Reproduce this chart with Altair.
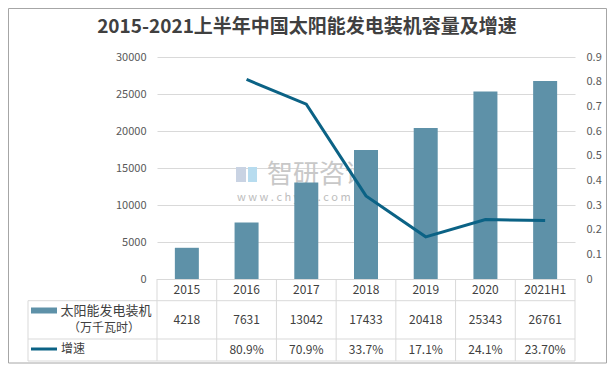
import altair as alt
import pandas as pd

title_text = "2015-2021上半年中国太阳能发电装机容量及增速"
years = ["2015", "2016", "2017", "2018", "2019", "2020", "2021H1"]
capacity = [4218, 7631, 13042, 17433, 20418, 25343, 26761]
growth = [None, 0.809, 0.709, 0.337, 0.171, 0.241, 0.237]
growth_labels = ["", "80.9%", "70.9%", "33.7%", "17.1%", "24.1%", "23.70%"]
series_bar = "太阳能发电装机"
series_bar_unit = "（万千瓦时）"
series_line = "增速"
left_ticks = [0, 5000, 10000, 15000, 20000, 25000, 30000]
right_ticks = [0, 0.1, 0.2, 0.3, 0.4, 0.5, 0.6, 0.7, 0.8, 0.9]

BAR = "#5E91A8"
LINE = "#0B6285"
GRID = "#D9D9D9"
TXT = "#404040"
FONT = "Noto Sans CJK SC"

W, H = 418, 222

df = pd.DataFrame({
    "year": years,
    "capacity": capacity,
    "growth": growth,
    "cap_label": [str(v) for v in capacity],
    "growth_label": growth_labels,
})

xenc = alt.X("year:N", sort=years, axis=None,
             scale=alt.Scale(paddingInner=0, paddingOuter=0))

base = alt.Chart(df)
one = pd.DataFrame({"a": [0]})

# outer border
border = alt.Chart(one).mark_rect(
    fillOpacity=0, stroke="#A6A6A6", strokeWidth=1
).encode(x=alt.value(-148.5), x2=alt.value(449.5), y=alt.value(-48.5), y2=alt.value(306))

# title
title = alt.Chart(pd.DataFrame({"t": [title_text]})).mark_text(
    font=FONT, fontSize=19, fontWeight="bold", color=TXT, align="center", baseline="middle"
).encode(text="t:N", x=alt.value(150), y=alt.value(-30))

# watermark
wm1 = alt.Chart(pd.DataFrame({"t": ["智研咨询"]})).mark_text(
    font=FONT, fontSize=26, color="#C8C8C8", align="left", baseline="middle"
).encode(text="t:N", x=alt.value(110), y=alt.value(118))
wm2 = alt.Chart(pd.DataFrame({"t": ["w w w . c h y x x . c o m"]})).mark_text(
    font=FONT, fontSize=11, color="#BDBDBD", align="left", baseline="middle"
).encode(text="t:N", x=alt.value(80), y=alt.value(141))
logo1 = alt.Chart(one).mark_rect(color="#C9D3E3").encode(
    x=alt.value(79), x2=alt.value(89), y=alt.value(110), y2=alt.value(125))
logo2 = alt.Chart(one).mark_rect(color="#B7DCEF").encode(
    x=alt.value(91), x2=alt.value(100), y=alt.value(110), y2=alt.value(125))

bars = base.mark_bar(size=24, color=BAR).encode(
    x=xenc,
    y=alt.Y("capacity:Q", scale=alt.Scale(domain=[0, 30000], nice=False),
            axis=alt.Axis(values=left_ticks, format="d", orient="left", title=None,
                          domain=False, ticks=False, grid=True, gridColor=GRID,
                          labelColor="#595959", labelFontSize=11, labelFont=FONT,
                          labelPadding=11)),
)

line = base.mark_line(color=LINE, strokeWidth=3).encode(
    x=xenc,
    y=alt.Y("growth:Q", scale=alt.Scale(domain=[0, 0.9], nice=False),
            axis=alt.Axis(values=right_ticks, format=".1~f", orient="right", title=None,
                          domain=False, ticks=False, grid=False,
                          labelColor="#595959", labelFontSize=11, labelFont=FONT,
                          labelPadding=11)),
)

# table grid
table_layers = []
table_layers.append(alt.Chart(one).mark_rule(color=GRID, strokeWidth=1).encode(
    x=alt.value(0), x2=alt.value(W), y=alt.value(222.5)))
for yy in [243.7, 282, 304]:
    table_layers.append(alt.Chart(one).mark_rule(color=GRID, strokeWidth=1).encode(
        x=alt.value(-129), x2=alt.value(W), y=alt.value(yy)))
table_layers.append(base.mark_rule(color=GRID, strokeWidth=1).encode(
    x=alt.X("year:N", sort=years, bandPosition=0, axis=None), y=alt.value(222), y2=alt.value(304)))
table_layers.append(alt.Chart(one).mark_rule(color=GRID, strokeWidth=1).encode(
    x=alt.value(W), y=alt.value(222), y2=alt.value(304)))
table_layers.append(alt.Chart(one).mark_rule(color=GRID, strokeWidth=1).encode(
    x=alt.value(-129), y=alt.value(243.7), y2=alt.value(304)))

hdr = base.mark_text(font=FONT, fontSize=12, color=TXT, baseline="middle").encode(
    x=xenc, y=alt.value(233), text="year:N")
caps = base.mark_text(font=FONT, fontSize=12, color=TXT, baseline="middle").encode(
    x=xenc, y=alt.value(263), text="cap_label:N")
grs = base.mark_text(font=FONT, fontSize=12, color=TXT, baseline="middle").encode(
    x=xenc, y=alt.value(293), text="growth_label:N")

# legend cells
sw_bar = alt.Chart(one).mark_rect(color=BAR).encode(
    x=alt.value(-126), x2=alt.value(-100), y=alt.value(250.5), y2=alt.value(256.5))
sw_line = alt.Chart(one).mark_rule(color=LINE, strokeWidth=3).encode(
    x=alt.value(-126), x2=alt.value(-100), y=alt.value(292))
lg1 = alt.Chart(pd.DataFrame({"t": [series_bar]})).mark_text(
    font=FONT, fontSize=13, color=TXT, align="center", baseline="middle"
).encode(text="t:N", x=alt.value(-51), y=alt.value(254))
lg2 = alt.Chart(pd.DataFrame({"t": [series_bar_unit]})).mark_text(
    font=FONT, fontSize=12, color=TXT, align="center", baseline="middle"
).encode(text="t:N", x=alt.value(-53), y=alt.value(270.5))
lg3 = alt.Chart(pd.DataFrame({"t": [series_line]})).mark_text(
    font=FONT, fontSize=12, color=TXT, align="left", baseline="middle"
).encode(text="t:N", x=alt.value(-96), y=alt.value(292))

chart = alt.layer(
    border, title, wm1, wm2, logo1, logo2, bars, line,
    *table_layers, hdr, caps, grs, sw_bar, sw_line, lg1, lg2, lg3
).resolve_scale(y="independent").properties(
    width=W, height=H,
    autosize=alt.AutoSizeParams(type="none"),
    padding={"left": 149, "top": 49, "right": 32, "bottom": 85},
).configure_view(stroke=None)

chart.save("out.html", embed_options={"renderer": "svg", "actions": False})
